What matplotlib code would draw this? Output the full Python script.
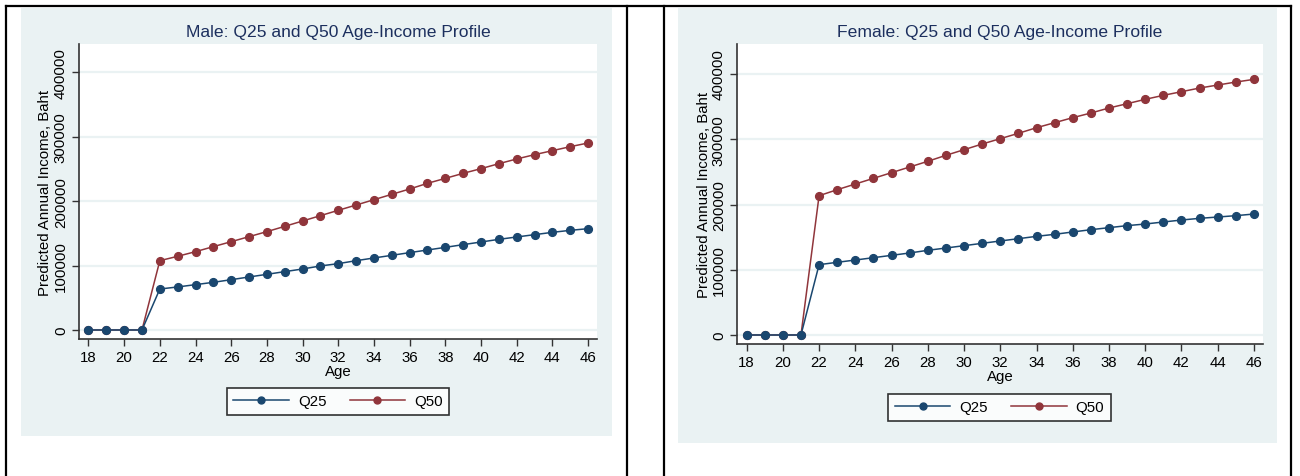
import matplotlib
matplotlib.use("Agg")
import matplotlib.pyplot as plt
from matplotlib.patches import Rectangle
from matplotlib.lines import Line2D

plt.rcParams['font.family'] = ['Liberation Sans', 'DejaVu Sans']

ages = list(range(18, 47))

male_q25 = [0, 0, 0, 0,
            63600, 66800, 70400, 74000, 78100, 82300, 86400, 90600, 94700,
            99400, 103000, 107600, 111800, 115900, 120100, 124200, 128300,
            132500, 136600, 140700, 144400, 148000, 151600, 154700, 157300]
male_q50 = [0, 0, 0, 0,
            107600, 114400, 121600, 129400, 137100, 144900, 152700, 160900,
            169200, 177500, 185800, 194000, 202300, 210600, 218900, 227700,
            235400, 243200, 250500, 258200, 265500, 272200, 278400, 284600,
            290300]
female_q25 = [0, 0, 0, 0,
              107800, 111400, 114900, 118500, 122100, 125700, 129800, 133300,
              136900, 140500, 144100, 147600, 151200, 154300, 157900, 161400,
              164500, 167600, 170100, 173200, 176200, 178800, 180800, 182900,
              185400]
female_q50 = [0, 0, 0, 0,
              213500, 222700, 231400, 240100, 248800, 257500, 266200, 275400,
              284000, 292700, 300900, 309100, 317700, 325400, 333100, 340200,
              347900, 354500, 361200, 367300, 372900, 378500, 383100, 387700,
              391800]

xticks = list(range(18, 47, 2))
yticks = [0, 100000, 200000, 300000, 400000]

NAVY = "#1a476f"
MAROON = "#90353b"
BG = "#eaf2f3"
W, H = 1300, 477

fig = plt.figure(figsize=(13, 4.77), dpi=100)


def px_rect(x0, y0, x1, y1):
    # pixel box (top-left origin) -> figure fraction [l, b, w, h]
    return [x0 / W, (H - y1) / H, (x1 - x0) / W, (y1 - y0) / H]


def panel(bg_box, ax_box, title, q25, q50, ylim, legend_box):
    l, b, w, h = px_rect(*bg_box)
    fig.add_artist(Rectangle((l, b), w, h, transform=fig.transFigure,
                             facecolor=BG, edgecolor="none", zorder=0))
    ax = fig.add_axes(px_rect(*ax_box))
    ax.set_facecolor("white")
    ax.set_zorder(1)
    for yv in yticks:
        ax.axhline(yv, color=BG, lw=1.6, zorder=0)
    ax.plot(ages, q25, color=NAVY, lw=1.1, marker="o", ms=5.6,
            label="Q25", zorder=3)
    ax.plot(ages, q50, color=MAROON, lw=1.1, marker="o", ms=5.6,
            label="Q50", zorder=2)
    ax.set_xlim(17.47, 46.5)
    ax.set_ylim(*ylim)
    ax.set_xticks(xticks)
    ax.set_yticks(yticks)
    ax.set_yticklabels([str(v) for v in yticks], rotation=90, va="center")
    ax.tick_params(labelsize=10.8, length=5, width=1, color="#333333",
                   pad=3)
    for s in ["top", "right"]:
        ax.spines[s].set_visible(False)
    for s in ["left", "bottom"]:
        ax.spines[s].set_color("#333333")
        ax.spines[s].set_linewidth(1.2)
    ax.set_title(title, fontsize=12.6, color="#1c2f5e", pad=6)
    ax.set_xlabel("Age", fontsize=10.8, labelpad=0)
    ax.set_ylabel("Predicted Annual Income, Baht", fontsize=10.8,
                  labelpad=1)
    lx0, ly0, lx1, ly1 = legend_box
    leg = ax.legend(loc="center", ncol=2, fontsize=10.8, frameon=True,
                    fancybox=False, edgecolor="black", handlelength=3.7,
                    columnspacing=1.55, handletextpad=0.6, borderpad=0.45,
                    borderaxespad=0,
                    bbox_to_anchor=((lx0 + lx1) / 2 / W,
                                    1 - (ly0 + ly1) / 2 / H),
                    bbox_transform=fig.transFigure)
    leg.get_frame().set_linewidth(1.2)
    for hnd in leg.legend_handles:
        hnd.set_markersize(5)
    return ax


panel((21, 9, 612, 437), (79, 45, 597, 340),
      "Male: Q25 and Q50 Age-Income Profile", male_q25, male_q50,
      (-14000, 444000), (226, 388, 450, 417))
panel((678, 9, 1277, 444), (737, 45, 1263, 345),
      "Female: Q25 and Q50 Age-Income Profile", female_q25, female_q50,
      (-13800, 446000), (886, 394, 1113, 423))

# table borders around the two cells
def vline(x):
    fig.add_artist(Line2D([x / W, x / W], [0, 1 - 7 / H],
                          transform=fig.transFigure, color="black", lw=1.6))

fig.add_artist(Line2D([6 / W, 1291 / W], [1 - 7 / H, 1 - 7 / H],
                      transform=fig.transFigure, color="black", lw=1.6))
for x in [6, 627, 664, 1291]:
    vline(x)

fig.savefig("out.png", dpi=100, facecolor="white")
